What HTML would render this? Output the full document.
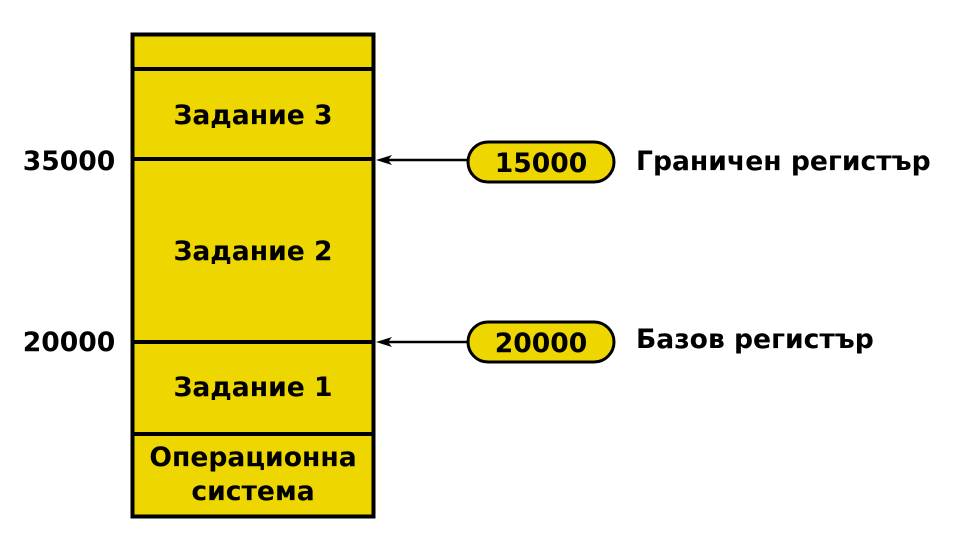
<!DOCTYPE html>
<html><head><meta charset="utf-8"><style>
html,body{margin:0;padding:0;background:#fff;width:953px;height:551px;overflow:hidden}
</style></head><body>
<svg width="953" height="551" xmlns="http://www.w3.org/2000/svg" font-family="DejaVu Sans, Liberation Sans, sans-serif" font-weight="bold" font-size="26.6">
<rect x="132.5" y="34.5" width="241" height="482" fill="#eed600" stroke="#000" stroke-width="4"/>
<g stroke="#000" stroke-width="4">
<line x1="132" y1="69" x2="374" y2="69"/>
<line x1="132" y1="159" x2="374" y2="159"/>
<line x1="132" y1="342" x2="374" y2="342"/>
<line x1="132" y1="434" x2="374" y2="434"/>
</g>
<g text-anchor="middle" fill="#000">
<text x="253" y="124">Задание 3</text>
<text x="253" y="260">Задание 2</text>
<text x="253" y="396">Задание 1</text>
<text x="253" y="466">Операционна</text>
<text x="253" y="500">система</text>
<text x="69" y="170">35000</text>
<text x="69" y="351">20000</text>
</g>
<g stroke="#000" stroke-width="2.5" fill="none">
<line x1="386" y1="160" x2="467" y2="160"/>
<line x1="386" y1="342" x2="467" y2="342"/>
</g>
<path d="M376 160 L392 155 L388 160 L392 165 Z" fill="#000"/>
<path d="M376 342 L392 337 L388 342 L392 347 Z" fill="#000"/>
<rect x="468" y="142" width="146" height="40" rx="20" fill="#eed600" stroke="#000" stroke-width="3"/>
<rect x="468" y="322" width="146" height="40" rx="20" fill="#eed600" stroke="#000" stroke-width="3"/>
<text x="541" y="172" text-anchor="middle">15000</text>
<text x="541" y="352" text-anchor="middle">20000</text>
<text x="636" y="170">Граничен регистър</text>
<text x="636" y="348">Базов регистър</text>
</svg>
</body></html>
